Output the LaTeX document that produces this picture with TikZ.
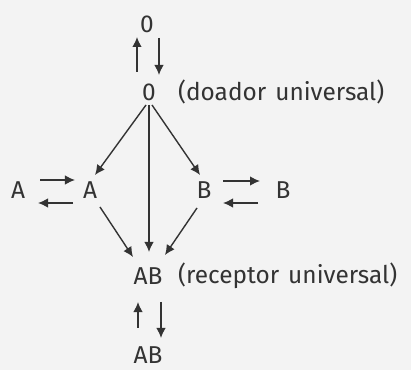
\documentclass[tikz,border=0pt]{standalone}
\usepackage{fontspec}
\setmainfont{Fira Sans}[WordSpace=1.4]
\usetikzlibrary{arrows.meta}
\definecolor{ink}{HTML}{333333}
\definecolor{paper}{HTML}{F3F3F3}

\begin{document}
\begin{tikzpicture}[
  x=1bp,y=1bp,
  font=\fontsize{24.5}{28}\selectfont,
  lab/.style={text=ink,inner sep=0pt},
  note/.style={text=ink,inner sep=0pt,anchor=base west},
  ar/.style={-{Latex[length=10bp,width=9.5bp]},draw=ink,line width=1.4bp}
]
\fill[paper] (0,0) rectangle (411,370);
\useasboundingbox (0,0) rectangle (411,370);

\node[lab] (o1) at (147,346) {0};
\node[lab] (o2) at (149,278) {0};
\node[note] (don) at (178,270) {(doador universal)};
\node[lab] (a1) at (18,180) {A};
\node[lab] (a2) at (90,180) {A};
\node[lab] (b1) at (204,180) {B};
\node[lab] (b2) at (283,180) {B};
\node[lab] (ab) at (148,94) {AB};
\node[note] (rec) at (178,87) {(receptor universal)};
\node[lab] (ab2) at (148,15) {AB};

% O <-> O
\draw[ar] ([shift={(-12,20)}]o2.center) -- ([shift={(-10,-13)}]o1.center);
\draw[ar] ([shift={(12,-14)}]o1.center) -- ([shift={(10,17)}]o2.center);
% A <-> A, B <-> B
\draw[ar] ([shift={(22,10)}]a1.center) -- ([shift={(-15,10)}]a2.center);
\draw[ar] ([shift={(-17,-13)}]a2.center) -- ([shift={(20,-13)}]a1.center);
\draw[ar] ([shift={(19,9)}]b1.center) -- ([shift={(-23,9)}]b2.center);
\draw[ar] ([shift={(-25,-13)}]b2.center) -- ([shift={(19,-13)}]b1.center);
% donations
\draw[ar] ([shift={(-3,-13)}]o2.center) -- ([shift={(5,15)}]a2.center);
\draw[ar] ([shift={(3,-13)}]o2.center) -- ([shift={(-4,15)}]b1.center);
\draw[ar] ([yshift=-13]o2.center) -- ([shift={(1,24)}]ab.center);
\draw[ar] ([shift={(10,-17)}]a2.center) -- ([shift={(-15,19)}]ab.center);
\draw[ar] ([shift={(-7,-18)}]b1.center) -- ([shift={(17,21)}]ab.center);
% AB <-> AB
\draw[ar] ([shift={(-10,27)}]ab2.center) -- ([shift={(-10,-26)}]ab.center);
\draw[ar] ([shift={(13,-26)}]ab.center) -- ([shift={(13,17)}]ab2.center);
\end{tikzpicture}
\end{document}
